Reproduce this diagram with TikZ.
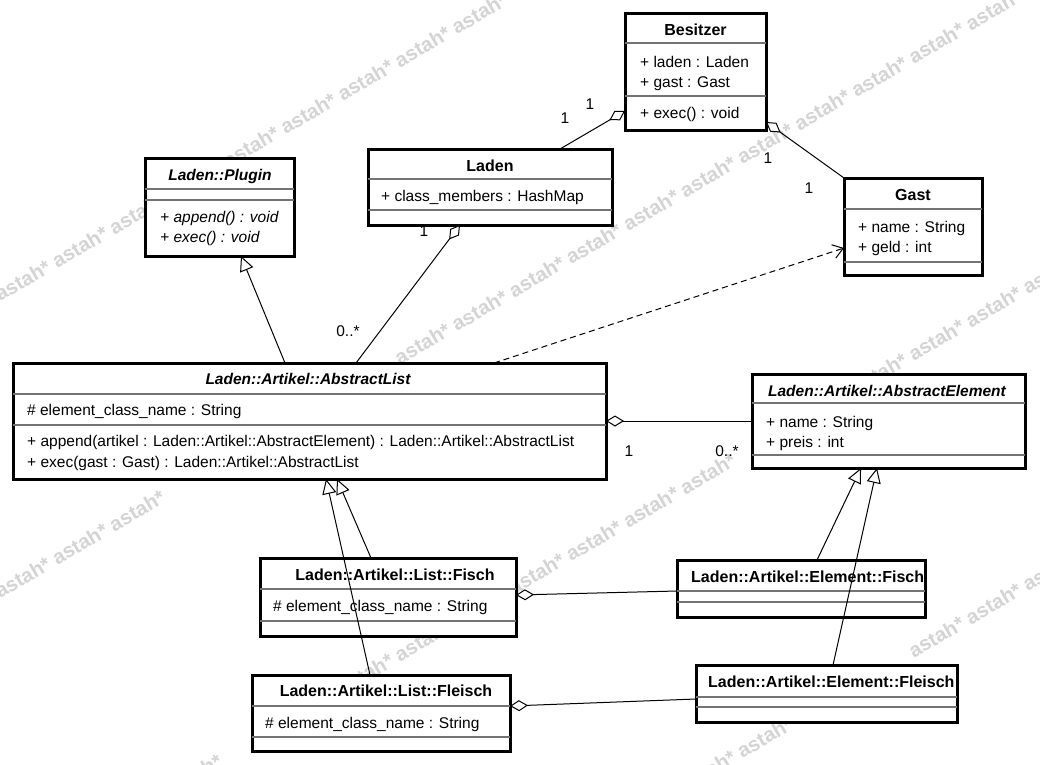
\documentclass[tikz,border=0pt]{standalone}
\usepackage{fontspec}
\setmainfont{Liberation Sans}
\usetikzlibrary{arrows.meta,calc}
\newcommand{\umlbox}[7]{%
  \node[cls, minimum width={#4-#2}, minimum height={#5-#3}] (#1) at (#2,#3) {};
  \draw[sepline] ($(#1.north west)+(0,#6-#3)$) -- ($(#1.north east)+(0,#6-#3)$);
  \draw[sepline] ($(#1.north west)+(0,#7-#3)$) -- ($(#1.north east)+(0,#7-#3)$);
}
\newcommand{\inbx}[4]{(\wcx>#1)*(\wcx<#3)*(\wcy>#2)*(\wcy<#4)}
\tikzset{
  cls/.style={draw=black, line width=3pt, fill=white, rectangle, inner sep=0pt, outer sep=0pt, anchor=north west},
  sepline/.style={draw=black!55, line width=1.5pt},
  ttl/.style={font=\bfseries\fontsize{16}{18}\selectfont, inner sep=0pt, anchor=base},
  ttli/.style={font=\bfseries\itshape\fontsize{15.5}{18}\selectfont, inner sep=0pt, anchor=base},
  mem/.style={font=\fontsize{15.5}{18}\selectfont, inner sep=0pt, anchor=base west},
  memi/.style={font=\itshape\fontsize{15.5}{18}\selectfont, inner sep=0pt, anchor=base west},
  mult/.style={font=\fontsize{15.5}{18}\selectfont, inner sep=0pt, anchor=base},
  conn/.style={line width=1pt, draw=black},
  gen/.style={conn, -{Triangle[length=15pt, width=14pt, fill=white]}},
  agg/.style={conn, {Diamond[length=18pt, width=11pt, fill=white]}-},
  dep/.style={conn, dash pattern=on 6pt off 4pt, -{Straight Barb[length=10pt, width=14pt]}},
  wm/.style={font=\bfseries\fontsize{20.2}{22}\selectfont, text=black!17, rotate=30.3, anchor=base west, inner sep=0pt},
}
\begin{document}
\begin{tikzpicture}[x=1pt, y=-1pt]
\useasboundingbox (0,0) rectangle (1040,764);
\fill[white] (0,0) rectangle (1040,764);
% watermark (only the words that are not hidden behind a class box)
\begin{scope}
  \clip (0,0) rectangle (1040,764);
  \foreach \wc [count=\r] in {302,599,896,1193} {
    \foreach \k in {0,...,22} {
      \pgfmathsetmacro{\wx}{-114.2+57.1*\k}
      \pgfmathsetmacro{\wy}{\wc+66.8-33.4*\k}
      \pgfmathsetmacro{\wcx}{\wx+29.7}
      \pgfmathsetmacro{\wcy}{\wy-21.4}
      \pgfmathtruncatemacro{\hide}{\inbx{625}{13}{766}{130}+\inbx{368}{149}{612}{225}+\inbx{145}{158}{294}{256}+\inbx{844}{178}{982}{275}+\inbx{13}{363}{606}{479}+\inbx{752}{374}{1025}{468}+\inbx{260}{558}{516}{636}+\inbx{252}{675}{510}{751}+\inbx{677}{560}{925}{617}+\inbx{696}{665}{957}{722}+(\wcx<-25)+(\wcx>1068)+(\wcy<-18)+(\wcy>784)}
      \ifnum\hide=0
        \node[wm] (wm-\r-\k) at (\wx,\wy) {astah*};
      \fi
    }
  }
\end{scope}
% classes
\umlbox{besitzer}{625}{13}{766}{130}{43}{96}
\node[ttl] (besitzer-t) at (695.5,35) {Besitzer};
\node[mem] (besitzer-a1) at (640,67) {+ laden : Laden};
\node[mem] (besitzer-a2) at (640,87) {+ gast : Gast};
\node[mem] (besitzer-o1) at (640,118) {+ exec() : void};

\umlbox{laden}{368}{149}{612}{225}{179}{210}
\node[ttl] (laden-t) at (490,171) {Laden};
\node[mem] (laden-a1) at (381,201) {+ class\_members : HashMap};

\umlbox{plugin}{145}{158}{294}{256}{189}{200}
\node[ttli] (plugin-t) at (220,180) {Laden::Plugin};
\node[memi] (plugin-o1) at (160,222) {+ append() : void};
\node[memi] (plugin-o2) at (160,242) {+ exec() : void};

\umlbox{gast}{844}{178}{982}{275}{209}{262}
\node[ttl] (gast-t) at (913,200) {Gast};
\node[mem] (gast-a1) at (858,232) {+ name : String};
\node[mem] (gast-a2) at (858,252) {+ geld : int};

\umlbox{alist}{13}{363}{606}{479}{394}{425}
\node[ttli] (alist-t) at (308,384) {Laden::Artikel::AbstractList};
\node[mem] (alist-a1) at (27,415) {\# element\_class\_name : String};
\node[mem] (alist-o1) at (27,446) {+ append(artikel : Laden::Artikel::AbstractElement) : Laden::Artikel::AbstractList};
\node[mem] (alist-o2) at (27,467) {+ exec(gast : Gast) : Laden::Artikel::AbstractList};

\umlbox{aelem}{752}{374}{1025}{468}{403}{455}
\node[ttli] (aelem-t) at (887,396) {Laden::Artikel::AbstractElement};
\node[mem] (aelem-a1) at (766,427) {+ name : String};
\node[mem] (aelem-a2) at (766,447) {+ preis : int};

\umlbox{lfisch}{260}{558}{516}{636}{589}{621}
\node[ttl] (lfisch-t) at (395,580) {Laden::Artikel::List::Fisch};
\node[mem] (lfisch-a1) at (273,611) {\# element\_class\_name : String};

\umlbox{lfleisch}{252}{675}{510}{751}{706}{737}
\node[ttl] (lfleisch-t) at (386,696) {Laden::Artikel::List::Fleisch};
\node[mem] (lfleisch-a1) at (265,728) {\# element\_class\_name : String};

\umlbox{efisch}{677}{560}{925}{617}{591}{602}
\node[ttl, anchor=base west] (efisch-t) at (691,582) {Laden::Artikel::Element::Fisch};

\umlbox{efleisch}{696}{665}{957}{722}{697}{707}
\node[ttl, anchor=base west] (efleisch-t) at (708,687) {Laden::Artikel::Element::Fleisch};

% connectors
\draw[agg] ($(besitzer.north west)+(0,98)$) -- ($(laden.north west)+(192,0)$);
\draw[agg] ($(besitzer.north east)+(0,109)$) -- (gast.north west);
\draw[agg] ($(laden.south west)+(92,0)$) -- ($(alist.north west)+(343,0)$);
\draw[gen] ($(alist.north west)+(272,0)$) -- ($(plugin.south west)+(96,0)$);
\draw[dep] ($(alist.north west)+(481,0)$) -- ($(gast.north west)+(0,70)$);
\draw[agg] ($(alist.north east)+(0,58)$) -- ($(aelem.north west)+(0,47)$);
\draw[gen] ($(lfisch.north west)+(111,0)$) -- ($(alist.south west)+(324,0)$);
\draw[gen] ($(lfleisch.north west)+(118,0)$) -- ($(alist.south west)+(313,0)$);
\draw[gen] ($(efisch.north west)+(140,0)$) -- ($(aelem.south west)+(109,0)$);
\draw[gen] ($(efleisch.north west)+(137,0)$) -- ($(aelem.south west)+(125,0)$);
\draw[agg] ($(lfisch.north east)+(0,37)$) -- ($(efisch.north west)+(0,31)$);
\draw[agg] ($(lfleisch.north east)+(0,31)$) -- ($(efleisch.north west)+(0,34)$);

% multiplicities
\node[mult] (m1) at (590,109) {1};
\node[mult] (m2) at (565,123) {1};
\node[mult] (m3) at (768,163) {1};
\node[mult] (m4) at (809,193) {1};
\node[mult] (m5) at (424,236) {1};
\node[mult] (m6) at (348,336) {0..*};
\node[mult] (m7) at (629,456) {1};
\node[mult] (m8) at (727,456) {0..*};
\end{tikzpicture}
\end{document}
